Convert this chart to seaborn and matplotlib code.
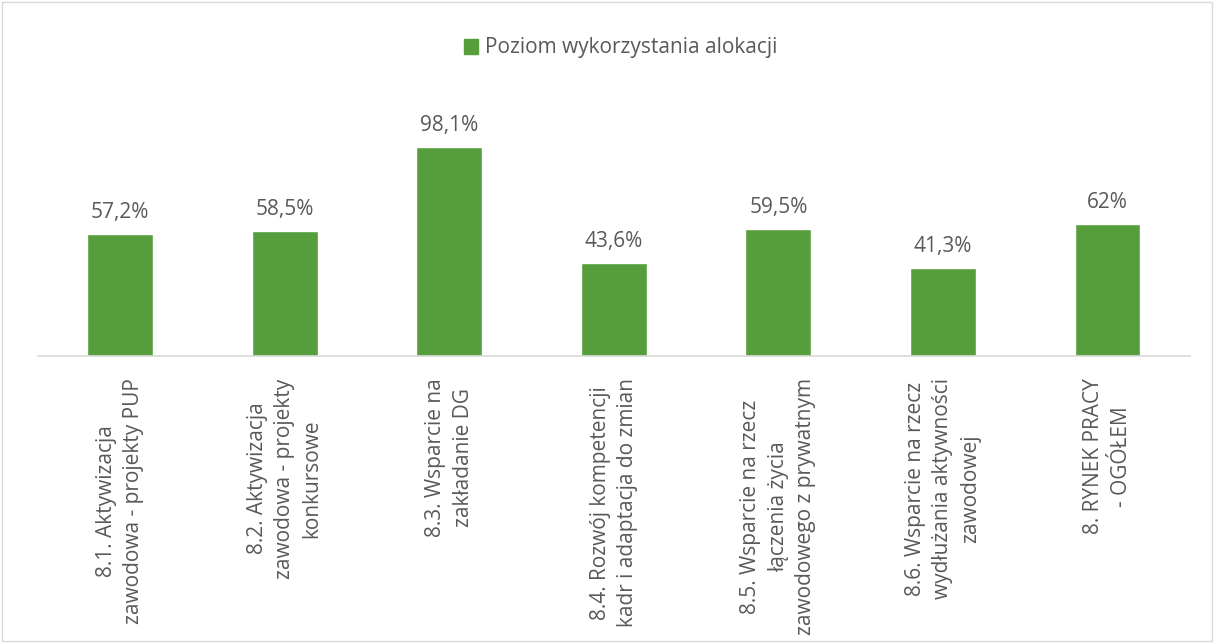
import matplotlib
matplotlib.use("Agg")
import matplotlib.pyplot as plt
import seaborn as sns
import pandas as pd
from matplotlib.patches import Patch, Rectangle

categories = [
    "8.1. Aktywizacja\nzawodowa - projekty PUP",
    "8.2. Aktywizacja\nzawodowa - projekty\nkonkursowe",
    "8.3. Wsparcie na\nzakładanie DG",
    "8.4. Rozwój kompetencji\nkadr i adaptacja do zmian",
    "8.5. Wsparcie na rzecz\nłączenia życia\nzawodowego z prywatnym",
    "8.6. Wsparcie na rzecz\nwydłużania aktywności\nzawodowej",
    "8. RYNEK PRACY\n- OGÓŁEM",
]
values = [57.2, 58.5, 98.1, 43.6, 59.5, 41.3, 62.0]
value_labels = ["57,2%", "58,5%", "98,1%", "43,6%", "59,5%", "41,3%", "62%"]
series_name = "Poziom wykorzystania alokacji"

sns.set_theme(style="white")
plt.rcParams['font.family'] = ['Open Sans', 'DejaVu Sans']

GREEN = "#559E3B"
TEXT = "#595959"

df = pd.DataFrame({"cat": categories, "val": values})

fig = plt.figure(figsize=(12.14, 6.43), dpi=100)
ax = fig.add_axes([0.0313, 0.4463, 0.9487, 0.3982])

sns.barplot(data=df, x="cat", y="val", color=GREEN, saturation=1, width=0.4, ax=ax)
ax.set_ylim(0, 120)
ax.set_xlim(-0.5, len(categories) - 0.5)

ax.bar_label(ax.containers[0], labels=value_labels, padding=8, fontsize=15, color=TEXT)

ax.set_xlabel("")
ax.set_ylabel("")
ax.set_yticks([])
ax.set_xticks(range(len(categories)))
ax.set_xticklabels(categories, rotation=90, ha="center", va="top", multialignment="center",
                   fontsize=15, color=TEXT, linespacing=1.4)
ax.tick_params(axis="x", length=0, pad=16)
for s in ["top", "right", "left"]:
    ax.spines[s].set_visible(False)
ax.spines["bottom"].set_color("#D9D9D9")
ax.spines["bottom"].set_linewidth(1.2)

fig.legend(handles=[Patch(facecolor=GREEN, edgecolor=GREEN)], labels=[series_name],
           loc="center", bbox_to_anchor=(0.511, 1 - 48 / 643), frameon=False,
           fontsize=15, labelcolor=TEXT, handlelength=0.7, handleheight=0.7, handletextpad=0.3)

fig.patches.append(Rectangle((0.002, 0.003), 0.996, 0.994, transform=fig.transFigure,
                             fill=False, edgecolor="#D9D9D9", linewidth=1))

fig.savefig("out.png", dpi=100, facecolor="white")
